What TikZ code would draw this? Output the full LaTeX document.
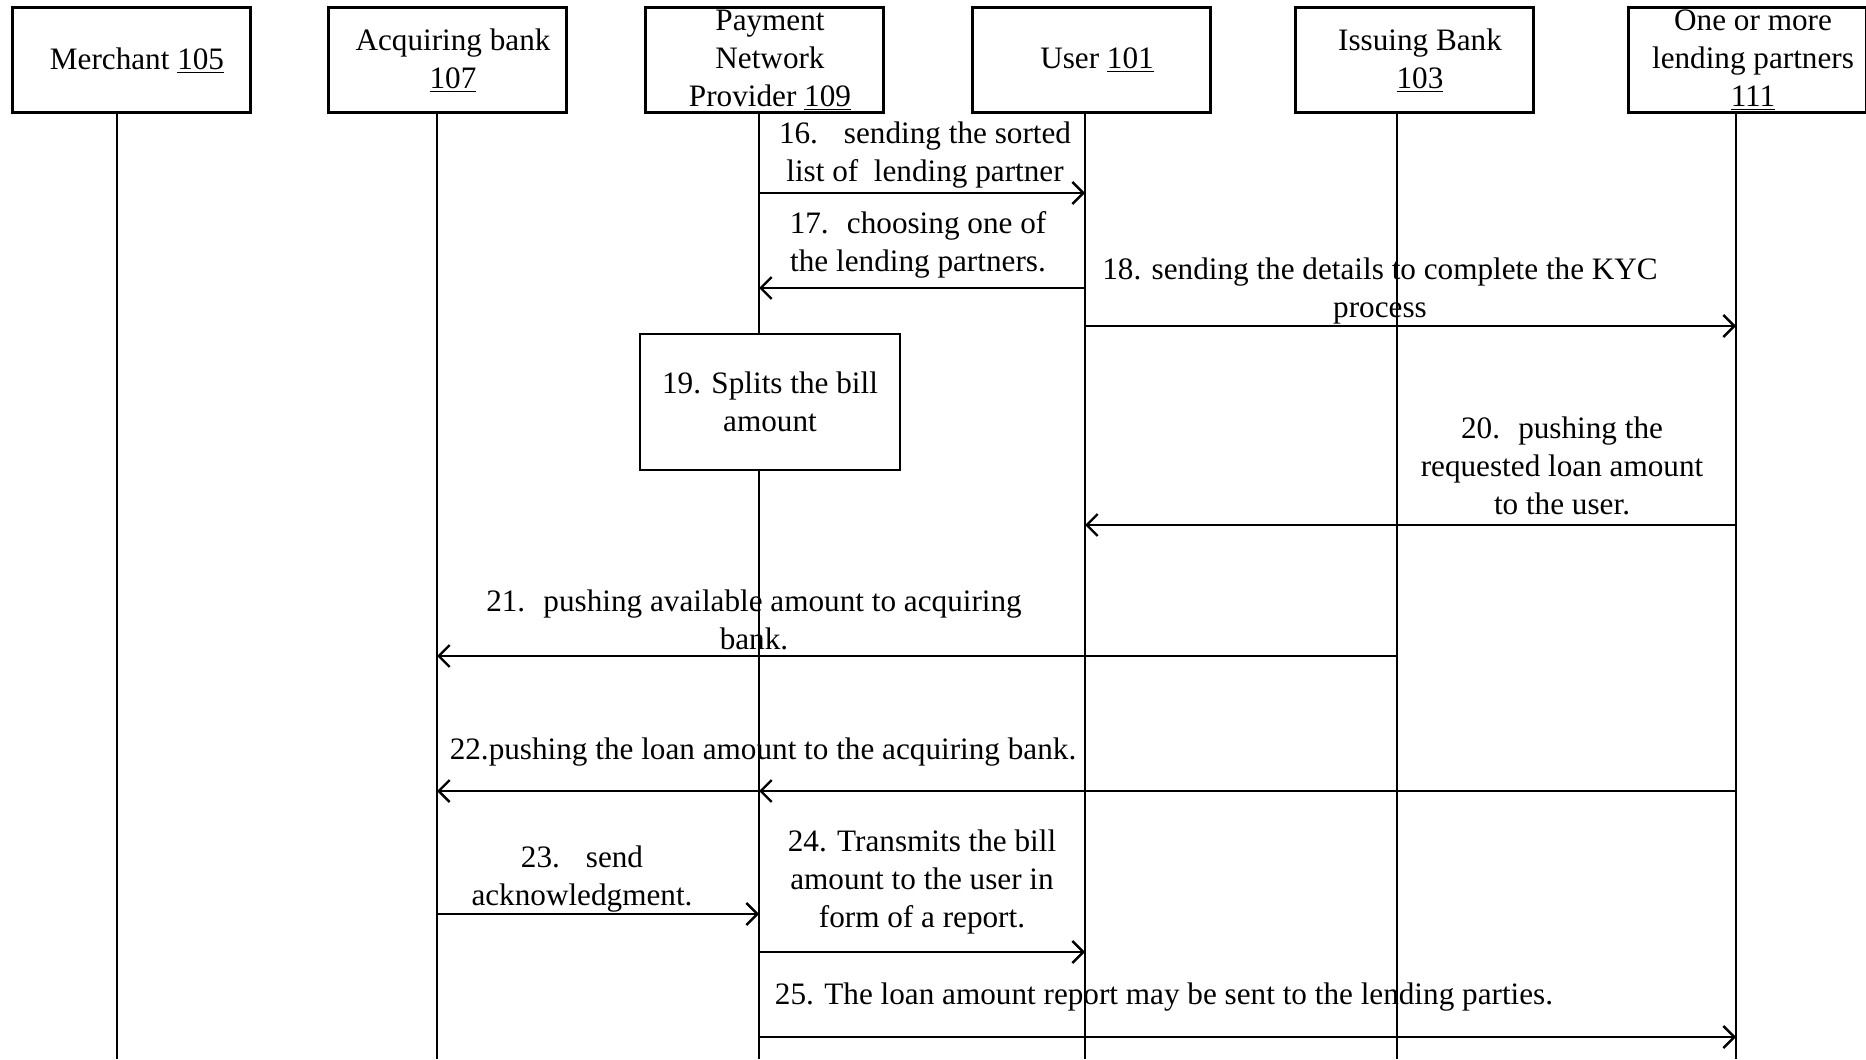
\documentclass[tikz,border=0pt]{standalone}
\usepackage{fontspec}
\setmainfont{Liberation Serif}
\usetikzlibrary{arrows.meta}

\newcommand{\pad}{\hspace*{6pt}}

\begin{document}
\begin{tikzpicture}[x=0.5pt, y=-0.5pt,
  actor/.style={draw, line width=1.5pt, minimum width=119pt, minimum height=52.5pt, inner sep=0pt, align=center, font=\fontsize{15.6}{19}\selectfont},
  stepbox/.style={draw, line width=1.3pt, minimum width=130pt, minimum height=68pt, inner sep=0pt, align=center, font=\fontsize{15.6}{19}\selectfont},
  life/.style={line width=1.2pt},
  arr/.style={-{Straight Barb[length=5.5pt, width=11pt, line width=1.2pt]}, line width=1.4pt},
  msg/.style={inner sep=0pt, align=center, font=\fontsize{15.6}{19}\selectfont}
]
  \useasboundingbox (0,0) rectangle (1866,1059);

  % actors
  \node[actor] (mer)  at (131,60.5)  {\pad Merchant \underline{105}};
  \node[actor] (acq)  at (447,60.5)  {\pad Acquiring bank\\\pad\underline{107}};
  \node[actor] (pnp)  at (764,60.5)  {\pad Payment\\\pad Network\\\pad Provider \underline{109}};
  \node[actor] (user) at (1091,60.5) {\pad User \underline{101}};
  \node[actor] (iss)  at (1414,60.5) {\pad Issuing Bank\\\pad\underline{103}};
  \node[actor] (lend) at (1747,60.5) {\pad One or more\\\pad lending partners\\\pad\underline{111}};

  % lifeline ends
  \coordinate (lmer)  at (117,1059);
  \coordinate (lacq)  at (437,1059);
  \coordinate (lpnp)  at (759,1059);
  \coordinate (luser) at (1085,1059);
  \coordinate (liss)  at (1397,1059);
  \coordinate (llend) at (1736,1059);

  % message labels
  \node[msg] (t16) at (925,155)  {16.~~ sending the sorted\\list of~ lending partner};
  \node[msg] (t17) at (918,245)  {17.~ choosing one of\\the lending partners.};
  \node[msg] (t18) at (1380,291) {18. sending the details to complete the KYC\\process};
  \node[stepbox] (split) at (770,402) {19. Splits the bill\\amount};
  \node[msg] (t20) at (1562,466) {20.~ pushing the\\requested loan amount\\to the user.};
  \node[msg] (t21) at (754,620)  {21.~ pushing available amount to acquiring\\bank.};
  \node[msg] (t22) at (763,752)  {22.pushing the loan amount to the acquiring bank.};
  \node[msg] (t23) at (582,879)  {23.~~ send\\acknowledgment.};
  \node[msg] (t24) at (922,882)  {24. Transmits the bill\\amount to the user in\\form of a report.};
  \node[msg] (t25) at (1164,997) {25. The loan amount report may be sent to the lending parties.};

  % lifelines
  \draw[life] (mer.south -| lmer)   -- (lmer);
  \draw[life] (acq.south -| lacq)   -- (lacq);
  \draw[life] (pnp.south -| lpnp)   -- (split.north -| lpnp);
  \draw[life] (split.south -| lpnp) -- (lpnp);
  \draw[life] (user.south -| luser) -- (luser);
  \draw[life] (iss.south -| liss)   -- (liss);
  \draw[life] (lend.south -| llend) -- (llend);

  % message heights
  \coordinate (m16) at (0,193);
  \coordinate (m17) at (0,288);
  \coordinate (m18) at (0,326);
  \coordinate (m20) at (0,525);
  \coordinate (m21) at (0,656);
  \coordinate (m22) at (0,791);
  \coordinate (m23) at (0,914);
  \coordinate (m24) at (0,952);
  \coordinate (m25) at (0,1037);

  % messages
  \draw[arr] (lpnp |- m16)  -- (luser |- m16);
  \draw[arr] (luser |- m17) -- (lpnp |- m17);
  \draw[arr] (luser |- m18) -- (llend |- m18);
  \draw[arr] (llend |- m20) -- (luser |- m20);
  \draw[arr] (liss |- m21)  -- (lacq |- m21);
  \draw[arr] (llend |- m22) -- (lpnp |- m22);
  \draw[arr] (lpnp |- m22)  -- (lacq |- m22);
  \draw[arr] (lacq |- m23)  -- (lpnp |- m23);
  \draw[arr] (lpnp |- m24)  -- (luser |- m24);
  \draw[arr] (lpnp |- m25)  -- (llend |- m25);
\end{tikzpicture}
\end{document}
